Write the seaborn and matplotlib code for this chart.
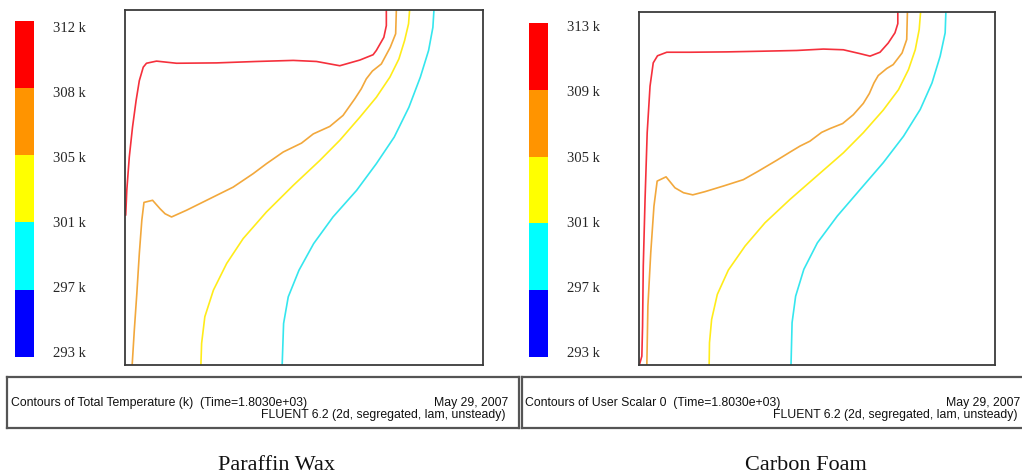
import numpy as np
import matplotlib
matplotlib.use("Agg")
import matplotlib.pyplot as plt
from matplotlib.colors import ListedColormap
import seaborn as sns

sns.set_theme(style="white")
plt.rcParams["font.family"] = ["Liberation Sans", "DejaVu Sans"]

# ---------------- data ----------------
band_colors = ["#ff0000", "#ff9400", "#ffff00", "#00ffff", "#0000ff"]
left_levels = ["312 k", "308 k", "305 k", "301 k", "297 k", "293 k"]
right_levels = ["313 k", "309 k", "305 k", "301 k", "297 k", "293 k"]

titles = ["Paraffin Wax", "Carbon Foam"]
info_main = ["Contours of Total Temperature (k)  (Time=1.8030e+03)",
             "Contours of User Scalar 0  (Time=1.8030e+03)"]
info_date = "May 29, 2007"
info_solver = "FLUENT 6.2 (2d, segregated, lam, unsteady)"

# contour lines (normalised domain coordinates) - Paraffin Wax
pw_red_x = [0.730, 0.730, 0.723, 0.702, 0.693, 0.656, 0.600, 0.535, 0.470, 0.367, 0.256, 0.144, 0.088, 0.060, 0.051, 0.040, 0.031, 0.021, 0.012, 0.005, 0.002]
pw_red_y = [1.000, 0.956, 0.923, 0.886, 0.874, 0.859, 0.843, 0.855, 0.858, 0.855, 0.851, 0.850, 0.856, 0.850, 0.839, 0.801, 0.745, 0.670, 0.586, 0.492, 0.422]
pw_orange_x = [0.758, 0.756, 0.741, 0.716, 0.691, 0.674, 0.660, 0.642, 0.609, 0.572, 0.526, 0.493, 0.442, 0.395, 0.358, 0.302, 0.228, 0.172, 0.130, 0.112, 0.098, 0.077, 0.053, 0.047, 0.040, 0.033, 0.026, 0.020]
pw_orange_y = [1.000, 0.933, 0.895, 0.848, 0.828, 0.806, 0.778, 0.750, 0.703, 0.672, 0.651, 0.625, 0.600, 0.567, 0.539, 0.501, 0.464, 0.436, 0.417, 0.426, 0.440, 0.464, 0.458, 0.408, 0.314, 0.201, 0.098, 0.000]
pw_yellow_x = [0.795, 0.792, 0.781, 0.765, 0.740, 0.702, 0.656, 0.600, 0.544, 0.470, 0.395, 0.330, 0.284, 0.247, 0.223, 0.214, 0.212]
pw_yellow_y = [1.000, 0.961, 0.914, 0.862, 0.811, 0.754, 0.698, 0.633, 0.576, 0.506, 0.431, 0.356, 0.286, 0.211, 0.136, 0.061, 0.000]
pw_cyan_x = [0.863, 0.860, 0.848, 0.825, 0.793, 0.752, 0.702, 0.647, 0.581, 0.527, 0.486, 0.456, 0.443, 0.439]
pw_cyan_y = [1.000, 0.951, 0.886, 0.811, 0.726, 0.642, 0.567, 0.492, 0.417, 0.342, 0.267, 0.192, 0.117, 0.000]

# contour lines - Carbon Foam
cf_red_x = [0.727, 0.727, 0.719, 0.700, 0.677, 0.649, 0.621, 0.574, 0.518, 0.443, 0.349, 0.246, 0.143, 0.078, 0.052, 0.040, 0.031, 0.023, 0.017, 0.012, 0.010, 0.008, 0.001]
cf_red_y = [1.000, 0.967, 0.941, 0.912, 0.886, 0.875, 0.882, 0.893, 0.895, 0.891, 0.889, 0.887, 0.886, 0.886, 0.876, 0.856, 0.790, 0.658, 0.469, 0.280, 0.110, 0.025, 0.000]
cf_orange_x = [0.754, 0.752, 0.739, 0.714, 0.696, 0.672, 0.660, 0.647, 0.630, 0.602, 0.572, 0.537, 0.513, 0.480, 0.452, 0.424, 0.387, 0.335, 0.293, 0.237, 0.185, 0.151, 0.125, 0.101, 0.076, 0.051, 0.042, 0.033, 0.025, 0.022]
cf_orange_y = [1.000, 0.922, 0.884, 0.851, 0.840, 0.820, 0.799, 0.769, 0.741, 0.709, 0.684, 0.670, 0.659, 0.634, 0.620, 0.603, 0.580, 0.549, 0.525, 0.507, 0.491, 0.482, 0.488, 0.502, 0.533, 0.521, 0.450, 0.318, 0.167, 0.000]
cf_yellow_x = [0.791, 0.787, 0.776, 0.757, 0.729, 0.686, 0.630, 0.574, 0.499, 0.424, 0.354, 0.298, 0.251, 0.220, 0.204, 0.198, 0.197]
cf_yellow_y = [1.000, 0.950, 0.893, 0.837, 0.780, 0.722, 0.658, 0.601, 0.535, 0.469, 0.403, 0.337, 0.269, 0.200, 0.129, 0.063, 0.000]
cf_cyan_x = [0.862, 0.860, 0.846, 0.823, 0.790, 0.743, 0.686, 0.621, 0.557, 0.501, 0.463, 0.440, 0.430, 0.427]
cf_cyan_y = [1.000, 0.941, 0.875, 0.799, 0.724, 0.648, 0.573, 0.497, 0.422, 0.346, 0.271, 0.195, 0.120, 0.000]

line_colors = {"red": "#f5303c", "orange": "#f2a83c", "yellow": "#ffec1a", "cyan": "#35e6ee"}

panels = [
    {"lines": [("red", pw_red_x, pw_red_y), ("orange", pw_orange_x, pw_orange_y),
               ("yellow", pw_yellow_x, pw_yellow_y), ("cyan", pw_cyan_x, pw_cyan_y)],
     "levels": left_levels},
    {"lines": [("red", cf_red_x, cf_red_y), ("orange", cf_orange_x, cf_orange_y),
               ("yellow", cf_yellow_x, cf_yellow_y), ("cyan", cf_cyan_x, cf_cyan_y)],
     "levels": right_levels},
]

# ---------------- layout (pixels) ----------------
W, H = 1022, 475
fig = plt.figure(figsize=(W / 100, H / 100), dpi=100)
fig.patch.set_facecolor("white")


def rect(x0, y0, x1, y1):
    return [x0 / W, 1 - y1 / H, (x1 - x0) / W, (y1 - y0) / H]


layout = [
    {"cbar": (15, 20.7, 34, 356.7), "lab": (26.7, 351.7), "box": (125, 10, 483, 365),
     "info": (7, 377, 519, 428), "info_x0": 11, "info_x1": 508, "title_x": 276},
    {"cbar": (529, 22.7, 548, 357.3), "lab": (26.0, 352.3), "box": (639, 12, 995, 365),
     "info": (522, 377, 1040, 428), "info_x0": 525, "info_x1": 1020, "title_x": 806},
]

for idx, (p, L) in enumerate(zip(panels, layout)):
    # colour legend
    cax = fig.add_axes(rect(*L["cbar"]))
    band = np.arange(len(band_colors)).reshape(-1, 1)
    sns.heatmap(band, cmap=ListedColormap(band_colors), vmin=0, vmax=len(band_colors) - 1,
                cbar=False, ax=cax, xticklabels=False)
    x0, y0, x1, y1 = L["cbar"]
    n = len(band_colors)
    tpos = [(py - y0) / (y1 - y0) * n for py in np.linspace(L["lab"][0], L["lab"][1], len(p["levels"]))]
    cax.set_yticks(tpos)
    cax.set_yticklabels(p["levels"], fontfamily="Liberation Serif", fontsize=10.5, rotation=0)
    cax.yaxis.tick_right()
    cax.tick_params(axis="y", length=0, pad=14)
    cax.tick_params(axis="x", length=0)

    # contour plot box
    ax = fig.add_axes(rect(*L["box"]))
    for name, xs, ys in p["lines"]:
        sns.lineplot(x=xs, y=ys, sort=False, estimator=None, color=line_colors[name],
                     lw=1.2, ax=ax, legend=False)
    ax.set_xlim(0, 1)
    ax.set_ylim(0, 1)
    ax.set_xticks([])
    ax.set_yticks([])
    ax.set_xlabel("")
    ax.set_ylabel("")
    for s in ax.spines.values():
        s.set_color("#3a3a3a")
        s.set_linewidth(1.3)

    # info box
    iax = fig.add_axes(rect(*L["info"]))
    iax.set_xticks([])
    iax.set_yticks([])
    iax.set_xlim(0, 1)
    iax.set_ylim(0, 1)
    for s in iax.spines.values():
        s.set_color("#555555")
        s.set_linewidth(1.6)
    fig.text(L["info_x0"] / W, 1 - 403 / H, info_main[idx], fontsize=8.8, color="#111111",
             ha="left", va="center")
    fig.text(L["info_x1"] / W, 1 - 403 / H, info_date, fontsize=8.8, color="#111111",
             ha="right", va="center")
    fig.text((L["info_x1"] - 3) / W, 1 - 415 / H, info_solver, fontsize=8.8, color="#111111",
             ha="right", va="center")

    # caption
    fig.text(L["title_x"] / W, 1 - 466 / H, titles[idx], fontsize=16,
             fontfamily="Liberation Serif", color="#111111", ha="center", va="center")

fig.savefig("out.png", dpi=100, facecolor="white")
